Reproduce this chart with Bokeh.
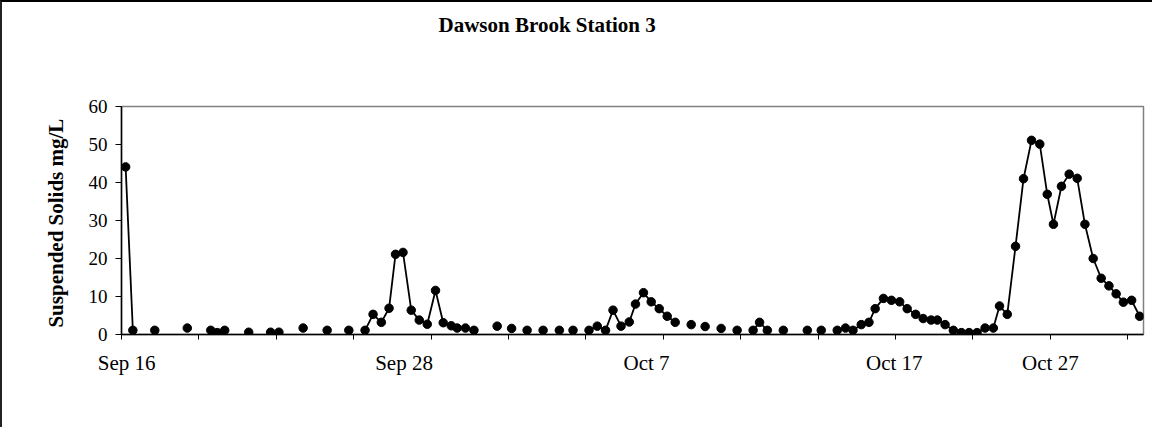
import math
from bokeh.plotting import figure
from bokeh.models import FixedTicker, Range1d, Title
from bokeh.embed import file_html
from bokeh.resources import INLINE

title_text = "Dawson Brook Station 3"
y_label = "Suspended Solids  mg/L"
x_tick_labels = ["Sep 16", "Sep 28", "Oct 7", "Oct 17", "Oct 27"]
x_label_pos = [0.2, 10.95, 20.35, 29.95, 36.0]
x_minor_ticks = [0, 3, 6, 9, 12, 15, 18, 21, 24, 27, 30, 33, 36, 39]
y_ticks = [0, 10, 20, 30, 40, 50, 60]

# days after Sep 16 (sampling times) and suspended solids (mg/L)
days = [0.16, 0.44, 1.29, 2.55, 3.46, 3.71, 4.00, 4.93, 5.78, 6.10,
        7.04, 7.97, 8.81, 9.44, 9.75, 10.07, 10.37, 10.62, 10.91, 11.23,
        11.54, 11.85, 12.17, 12.47, 12.78, 13.01, 13.33, 13.66, 14.56, 15.12,
        15.72, 16.34, 16.97, 17.50, 18.12, 18.44, 18.76, 19.05, 19.36, 19.68,
        19.92, 20.23, 20.53, 20.84, 21.15, 21.46, 22.08, 22.62, 23.24, 23.86,
        24.48, 24.73, 25.03, 25.65, 26.58, 27.12, 27.74, 28.06, 28.35, 28.67,
        28.97, 29.21, 29.53, 29.84, 30.16, 30.45, 30.78, 31.07, 31.38, 31.62,
        31.92, 32.24, 32.55, 32.85, 33.16, 33.47, 33.79, 34.03, 34.33, 34.65,
        34.96, 35.27, 35.59, 35.88, 36.12, 36.43, 36.73, 37.04, 37.34, 37.66,
        37.97, 38.27, 38.55, 38.83, 39.15, 39.46]
tss = [44.1, 1.1, 1.1, 1.7, 1.1, 0.5, 1.1, 0.6, 0.6, 0.6,
       1.7, 1.1, 1.1, 1.1, 5.3, 3.2, 6.9, 21.1, 21.6, 6.4,
       3.8, 2.7, 11.6, 3.1, 2.3, 1.7, 1.7, 1.1, 2.2, 1.6,
       1.1, 1.1, 1.1, 1.1, 1.1, 2.2, 1.1, 6.4, 2.2, 3.3,
       8.0, 11.0, 8.6, 6.8, 4.8, 3.2, 2.6, 2.1, 1.6, 1.1,
       1.1, 3.2, 1.1, 1.1, 1.1, 1.1, 1.1, 1.7, 1.1, 2.6,
       3.2, 6.8, 9.5, 9.0, 8.6, 6.8, 5.3, 4.2, 3.8, 3.8,
       2.6, 1.1, 0.5, 0.5, 0.5, 1.7, 1.7, 7.5, 5.3, 23.2,
       41.0, 51.1, 50.1, 36.9, 29.0, 39.0, 42.2, 41.1, 29.0, 20.0,
       14.8, 12.8, 10.7, 8.5, 9.0, 4.8]

# line is broken where samples are far apart (missing readings)
max_gap = 0.45
lx, ly = [], []
for i, (d, v) in enumerate(zip(days, tss)):
    if i > 0 and d - days[i - 1] > max_gap:
        lx.append(math.nan)
        ly.append(math.nan)
    lx.append(d)
    ly.append(v)

SERIF = "Liberation Serif"

p = figure(width=1152, height=427,
           x_range=Range1d(0, 39.61), y_range=Range1d(0, 60),
           output_backend="svg", toolbar_location=None,
           min_border_left=119, min_border_right=11,
           min_border_top=104, min_border_bottom=95,
           styles={"border-left": "2px solid #222", "border-top": "2px solid #000"})

# spacer panel next to the frame, then the real title above it
p.add_layout(Title(text=" ", text_font=SERIF, text_font_size="21px", standoff=33), "above")
p.add_layout(Title(text=title_text, text_font=SERIF, text_font_size="21px",
                   text_font_style="bold", text_color="black", align="left",
                   vertical_align="top", offset=317, standoff=18), "above")

p.xgrid.grid_line_color = None
p.ygrid.grid_line_color = None
p.outline_line_color = "#808080"
p.outline_line_width = 1.5
p.background_fill_color = "white"
p.border_fill_color = "white"

p.line(lx, ly, line_color="black", line_width=1.8)
p.scatter(days, tss, size=8.5, fill_color="black", line_color="black")

xa = p.xaxis[0]
xa.ticker = FixedTicker(ticks=x_label_pos, minor_ticks=x_minor_ticks)
xa.major_label_overrides = {pos: lab for pos, lab in zip(x_label_pos, x_tick_labels)}
xa.major_tick_out = 0
xa.major_tick_in = 0
xa.minor_tick_out = 5
xa.minor_tick_in = 0
xa.minor_tick_line_color = "black"
xa.axis_line_color = "black"
xa.axis_line_width = 1.5
xa.major_label_standoff = 11
xa.major_label_text_font = SERIF
xa.major_label_text_font_size = "21px"
xa.major_label_text_color = "black"

ya = p.yaxis[0]
ya.ticker = FixedTicker(ticks=y_ticks)
ya.major_tick_out = 6
ya.major_tick_in = 0
ya.minor_tick_out = 0
ya.minor_tick_in = 0
ya.major_tick_line_color = "black"
ya.axis_line_color = "black"
ya.axis_line_width = 1.5
ya.major_label_standoff = 8
ya.major_label_text_font = SERIF
ya.major_label_text_font_size = "19px"
ya.major_label_text_color = "black"
ya.axis_label = y_label
ya.axis_label_text_font = SERIF
ya.axis_label_text_font_size = "21px"
ya.axis_label_text_font_style = "bold"
ya.axis_label_text_color = "black"
ya.axis_label_standoff = 18

open("out.html", "w").write(file_html(p, INLINE))
